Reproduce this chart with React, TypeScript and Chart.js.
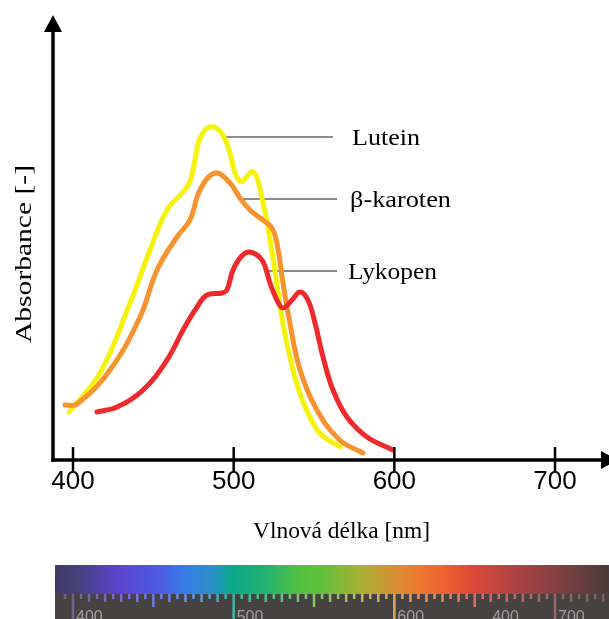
import React, { useEffect, useRef } from 'react';
import { Chart, registerables } from 'chart.js';

Chart.register(...registerables);

// Absorption spectra of carotenoids (wavelength in nm, relative absorbance)
const luteinNm = [397.5, 416.8, 435.5, 447.9, 458.5, 468.6, 472.8, 475.9, 479, 485.3, 492.5, 497.7, 500.8, 505, 511.2, 514.3, 517.4, 520.5, 523.7, 526.8, 529.9, 534, 539.2, 545.4, 553.7, 566.2];
const luteinAbs = [0.12, 0.2175, 0.3925, 0.525, 0.625, 0.671, 0.696, 0.75, 0.804, 0.833, 0.817, 0.767, 0.7175, 0.696, 0.721, 0.708, 0.658, 0.6, 0.525, 0.442, 0.358, 0.275, 0.192, 0.125, 0.067, 0.033];

const karotenNm = [395, 402.5, 423, 441.7, 452.3, 464.7, 472.8, 479, 488.4, 497.7, 503.9, 510.1, 518.2, 523.8, 526.9, 530.7, 535, 541.3, 551.8, 566, 580.5];
const karotenAbs = [0.1375, 0.14, 0.225, 0.3575, 0.475, 0.5575, 0.6, 0.675, 0.7175, 0.6925, 0.655, 0.625, 0.6, 0.58, 0.5425, 0.4425, 0.3425, 0.225, 0.125, 0.05, 0.0175];

const lykopenNm = [414.9, 427.4, 443.6, 458.5, 468.5, 477.2, 483.4, 492.7, 495.8, 499.6, 505, 510.1, 517.6, 522.6, 526.9, 530.7, 536.3, 541.3, 546.2, 550.6, 555.6, 561.8, 570.5, 583, 599];
const lykopenAbs = [0.12, 0.1325, 0.175, 0.25, 0.325, 0.3825, 0.4125, 0.4175, 0.425, 0.475, 0.51, 0.52, 0.5, 0.4425, 0.4, 0.38, 0.4, 0.42, 0.4, 0.3425, 0.2575, 0.175, 0.1075, 0.0575, 0.025];

// Axis ticks
const xTickValues = [400, 500, 600, 700];

// Curve labels with leader lines
const labelNames = ['Lutein', 'β-karoten', 'Lykopen'];
const leaderStartNm = [493.4, 503.9, 521.4];
const leaderEndNm = [561.8, 564.3, 564.3];
const leaderAbs = [0.8075, 0.6525, 0.4725];

// Spectrum strip labels
const stripLabels = ['400', '500', '600', '400', '700'];
const stripLabelNm = [400, 500, 600, 659, 700];

const serif = '"Liberation Serif", "Times New Roman", serif';
const sans = '"Liberation Sans", Arial, sans-serif';

const stripStops: [number, string][] = [
  [55, '#403a68'], [78, '#46407c'], [120, '#5c44d2'], [160, '#4a5ce2'], [182, '#3a78e8'],
  [212, '#2a90c8'], [232, '#08a88a'], [265, '#22b270'], [300, '#52c040'], [322, '#62c03a'],
  [360, '#a6b032'], [395, '#d89032'], [420, '#f07830'], [445, '#ee6032'], [470, '#e04a38'],
  [520, '#a84242'], [560, '#804040'], [609, '#4a3a3a'],
];

function hexToRgb(h: string) {
  return [parseInt(h.slice(1, 3), 16), parseInt(h.slice(3, 5), 16), parseInt(h.slice(5, 7), 16)];
}
function stripColorAt(x: number, lighten = 0) {
  let a = stripStops[0], b = stripStops[stripStops.length - 1];
  for (let i = 0; i < stripStops.length - 1; i++) {
    if (x >= stripStops[i][0] && x <= stripStops[i + 1][0]) { a = stripStops[i]; b = stripStops[i + 1]; break; }
  }
  const t = b[0] === a[0] ? 0 : Math.min(1, Math.max(0, (x - a[0]) / (b[0] - a[0])));
  const ca = hexToRgb(a[1]), cb = hexToRgb(b[1]);
  const c = ca.map((v, i) => {
    const m = v + (cb[i] - v) * t;
    return Math.round(m + (255 - m) * lighten);
  });
  return `rgb(${c[0]},${c[1]},${c[2]})`;
}

function fitText(ctx: CanvasRenderingContext2D, text: string, x: number, y: number, width: number) {
  const w = ctx.measureText(text).width;
  ctx.save();
  ctx.translate(x, y);
  ctx.scale(width / w, 1);
  ctx.fillText(text, 0, 0);
  ctx.restore();
}

const decorPlugin = {
  id: 'decor',
  beforeDatasetsDraw(chart: any) {
    const { ctx, scales } = chart;
    const xs = scales.x, ys = scales.y;
    ctx.save();
    // leader lines to the curve labels
    ctx.strokeStyle = '#666';
    ctx.lineWidth = 1.6;
    labelNames.forEach((_, i) => {
      const y = ys.getPixelForValue(leaderAbs[i]);
      ctx.beginPath();
      ctx.moveTo(xs.getPixelForValue(leaderStartNm[i]), y);
      ctx.lineTo(xs.getPixelForValue(leaderEndNm[i]), y);
      ctx.stroke();
    });
    ctx.restore();
  },
  afterDatasetsDraw(chart: any) {
    const { ctx, scales, chartArea } = chart;
    const xs = scales.x, ys = scales.y;
    const left = chartArea.left, bottom = ys.getPixelForValue(0), top = chartArea.top;
    ctx.save();
    ctx.fillStyle = '#000';
    ctx.strokeStyle = '#000';
    ctx.lineWidth = 3.5;
    // y axis with arrow
    ctx.beginPath();
    ctx.moveTo(left, bottom + 1.75);
    ctx.lineTo(left, top + 12);
    ctx.stroke();
    ctx.beginPath();
    ctx.moveTo(left, top - 5);
    ctx.lineTo(left - 9, top + 12);
    ctx.lineTo(left + 9, top + 12);
    ctx.closePath();
    ctx.fill();
    // x axis with arrow
    ctx.beginPath();
    ctx.moveTo(left - 1.75, bottom);
    ctx.lineTo(chartArea.right - 8, bottom);
    ctx.stroke();
    ctx.beginPath();
    ctx.moveTo(chartArea.right + 9, bottom);
    ctx.lineTo(chartArea.right - 8, bottom - 9);
    ctx.lineTo(chartArea.right - 8, bottom + 9);
    ctx.closePath();
    ctx.fill();
    // ticks and labels
    ctx.lineWidth = 2.5;
    ctx.font = `26px ${sans}`;
    ctx.textAlign = 'center';
    ctx.textBaseline = 'top';
    xTickValues.forEach(v => {
      const x = xs.getPixelForValue(v);
      ctx.beginPath();
      ctx.moveTo(x, bottom - 13);
      ctx.lineTo(x, bottom + 12);
      ctx.stroke();
      ctx.fillText(String(v), x, bottom + 9);
    });
    // axis titles
    ctx.font = `24px ${serif}`;
    ctx.textAlign = 'left';
    ctx.textBaseline = 'alphabetic';
    fitText(ctx, 'Vlnová délka [nm]', 253, 538, 177);
    ctx.save();
    ctx.translate(31, 343);
    ctx.rotate(-Math.PI / 2);
    fitText(ctx, 'Absorbance [-]', 0, 0, 178);
    ctx.restore();
    // curve labels
    const labelX = [352, 350, 348];
    const labelW = [68, 101, 89];
    labelNames.forEach((name, i) => {
      const y = ys.getPixelForValue(leaderAbs[i]) + 8;
      fitText(ctx, name, labelX[i], y, labelW[i]);
    });
    // visible spectrum strip
    const sx0 = 55, sx1 = chart.width, sy0 = 565, sy1 = 594, sy2 = chart.height;
    const grad = ctx.createLinearGradient(sx0, 0, sx1, 0);
    stripStops.forEach(([p, c]) => grad.addColorStop((p - sx0) / (sx1 - sx0), c));
    ctx.fillStyle = grad;
    ctx.fillRect(sx0, sy0, sx1 - sx0, sy1 - sy0);
    ctx.fillStyle = '#464242';
    ctx.fillRect(sx0, sy1, sx1 - sx0, sy2 - sy1);
    ctx.lineWidth = 2.5;
    for (let nm = 390; nm <= 730; nm += 5) {
      const x = xs.getPixelForValue(nm);
      if (x < sx0 + 2 || x > sx1) continue;
      let len = 5;
      if (nm % 100 === 0) len = sy2 - sy1;
      else if (nm % 50 === 0) len = 13;
      else if (nm % 10 === 0) len = 8;
      ctx.strokeStyle = stripColorAt(x, 0.2);
      ctx.beginPath();
      ctx.moveTo(x, sy1);
      ctx.lineTo(x, sy1 + len);
      ctx.stroke();
    }
    ctx.fillStyle = '#a0a0a0';
    ctx.font = `16px ${sans}`;
    ctx.textAlign = 'left';
    stripLabels.forEach((t, i) => {
      const x = xs.getPixelForValue(stripLabelNm[i]) + 3;
      ctx.fillText(t, x, 622);
    });
    ctx.restore();
  },
};

function toPoints(xs: number[], ys: number[]) {
  return xs.map((x, i) => ({ x, y: ys[i] }));
}

export default function App() {
  const canvasRef = useRef<HTMLCanvasElement | null>(null);

  useEffect(() => {
    const canvas = canvasRef.current;
    if (!canvas) return;
    const line = (label: string, data: any[], color: string) => ({
      label,
      data,
      borderColor: color,
      backgroundColor: color,
      borderWidth: 5,
      borderCapStyle: 'round' as const,
      borderJoinStyle: 'round' as const,
      pointRadius: 0,
      fill: false,
      tension: 0.4,
    });
    const chart = new Chart(canvas, {
      type: 'line',
      data: {
        datasets: [
          line('Lykopen', toPoints(lykopenNm, lykopenAbs), '#ef2a2c'),
          line('β-karoten', toPoints(karotenNm, karotenAbs), '#f7922e'),
          line('Lutein', toPoints(luteinNm, luteinAbs), '#f6f20a'),
        ],
      },
      options: {
        responsive: false,
        animation: false,
        devicePixelRatio: 1,
        layout: { padding: { left: 53, right: 0, top: 20, bottom: 159 } },
        plugins: { legend: { display: false }, tooltip: { enabled: false } },
        scales: {
          x: { type: 'linear', min: 387.55, max: 733.6, display: false },
          y: { type: 'linear', min: 0, max: 1.1, display: false },
        },
      },
      plugins: [decorPlugin],
    });
    return () => chart.destroy();
  }, []);

  return (
    <div style={{ position: 'fixed', left: 0, top: 0, width: 609, height: 619, background: '#fff' }}>
      <canvas ref={canvasRef} width={609} height={619} style={{ width: 609, height: 619, display: 'block' }} />
    </div>
  );
}
